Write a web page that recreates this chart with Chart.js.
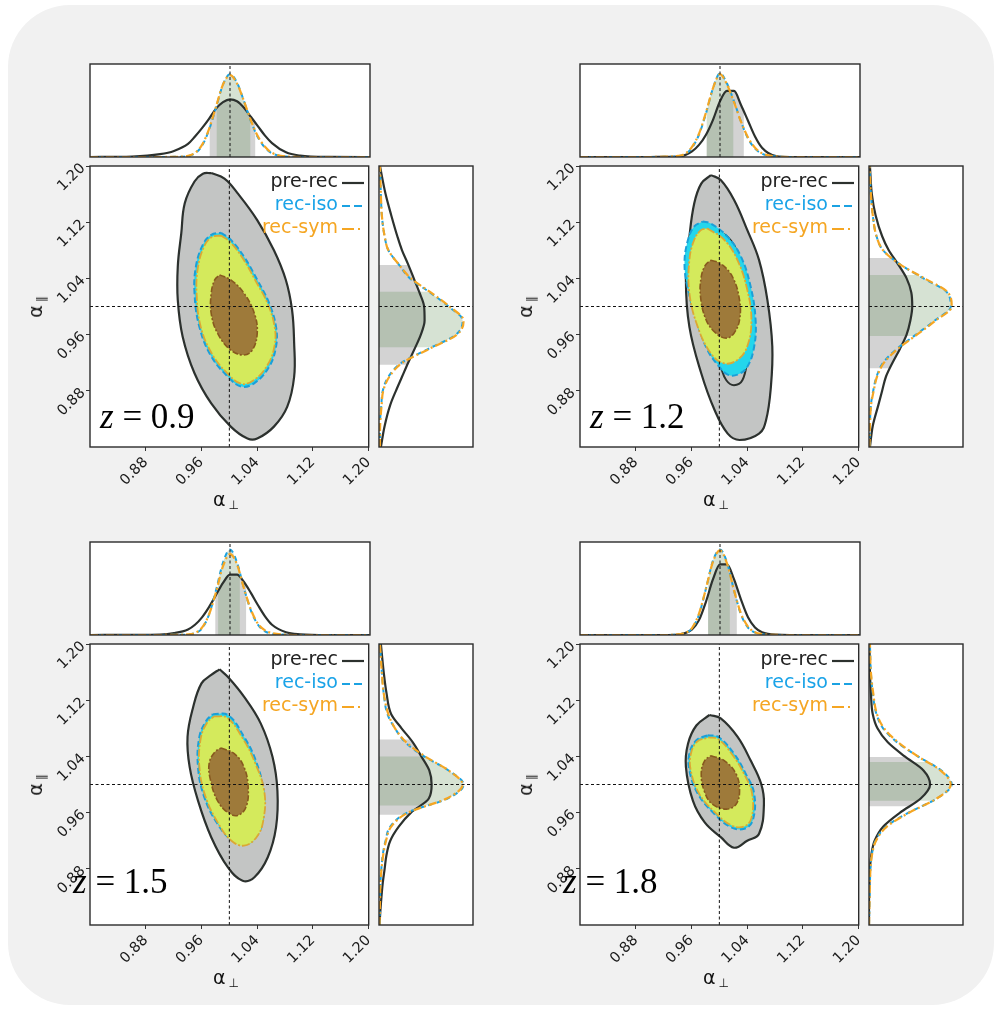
<!DOCTYPE html>
<html>
<head>
<meta charset="utf-8">
<script src="https://cdn.jsdelivr.net/npm/chart.js@4/dist/chart.umd.min.js"></script>
<style>
  body { margin: 0; width: 995px; height: 1009px; position: relative; overflow: hidden; background: #fff; font-family: "DejaVu Sans", sans-serif; }
  #bg { position: absolute; left: 8px; top: 5px; width: 986px; height: 1000px; border-radius: 62px; background: #f1f1f1; }
  canvas { position: absolute; }
  .legrow { position: absolute; width: 120px; text-align: right; font-size: 19px; line-height: 23px; white-space: nowrap; }
  .legline { position: absolute; line-height: 0; }
  .legline svg { display: block; }
  .zlab { position: absolute; font-family: "Liberation Serif", "DejaVu Serif", serif; font-size: 35px; line-height: 34px; white-space: nowrap; color: #000; }
  .atitle { position: absolute; font-size: 19px; white-space: nowrap; color: #111; transform: translate(-50%, -50%); }
  .atitle sub { font-size: 12px; vertical-align: -3px; margin-left: 3px; }
  .ytitle { transform: translate(-50%, -50%) rotate(-90deg); }
</style>
</head>
<body>
<div id="bg"></div>
<script>
// ---------------------------------------------------------------- data
const redshifts = ["0.9", "1.2", "1.5", "1.8"];
const legendLabels = ["pre-rec", "rec-iso", "rec-sym"];
const tickValues = [0.88, 0.96, 1.04, 1.12, 1.20];
const refValue = 1.0;

// marginal grids (alpha values where the 1D curves were read)
const topGrid = [0.80, 0.86, 0.90, 0.92, 0.94, 0.95, 0.96, 0.97, 0.98, 0.99, 1.00, 1.01, 1.02, 1.03, 1.04, 1.05, 1.06, 1.08, 1.10, 1.14, 1.20];
const sideGrid = [0.80, 0.83, 0.86, 0.88, 0.90, 0.92, 0.94, 0.96, 0.98, 1.00, 1.02, 1.04, 1.06, 1.08, 1.10, 1.13, 1.16, 1.20];

// z = 0.9
const z09TopPre = [0, 0.005, 0.03, 0.065, 0.14, 0.22, 0.31, 0.41, 0.52, 0.59, 0.62, 0.60, 0.53, 0.43, 0.33, 0.23, 0.15, 0.05, 0.015, 0.001, 0];
const z09TopIso = [0, 0, 0, 0.002, 0.01, 0.04, 0.12, 0.29, 0.53, 0.78, 0.89, 0.80, 0.60, 0.38, 0.21, 0.10, 0.04, 0.005, 0, 0, 0];
const z09TopSym = [0, 0, 0, 0.002, 0.012, 0.045, 0.13, 0.30, 0.54, 0.78, 0.88, 0.79, 0.60, 0.39, 0.22, 0.11, 0.045, 0.006, 0, 0, 0];
const z09SidePre = [0.02, 0.06, 0.12, 0.18, 0.245, 0.31, 0.38, 0.445, 0.485, 0.48, 0.43, 0.37, 0.31, 0.245, 0.195, 0.13, 0.07, 0.01];
const z09SideIso = [0.01, 0.01, 0.025, 0.04, 0.10, 0.24, 0.53, 0.82, 0.89, 0.74, 0.54, 0.33, 0.21, 0.10, 0.06, 0.03, 0.02, 0.01];
const z09SideSym = [0.01, 0.012, 0.028, 0.045, 0.11, 0.25, 0.54, 0.83, 0.90, 0.75, 0.55, 0.34, 0.21, 0.10, 0.06, 0.03, 0.02, 0.01];
const z09TopBands = { pre: [0.971, 1.036], rec: [0.981, 1.029] };
const z09SideBands = { pre: [0.917, 1.059], rec: [0.942, 1.021] };
const z09Pre2 = [[0.974,1.190],[0.993,1.182],[1.012,1.161],[1.040,1.123],[1.064,1.080],[1.081,1.038],[1.090,0.995],[1.093,0.948],[1.093,0.900],[1.083,0.857],[1.064,0.829],[1.040,0.812],[1.026,0.812],[1.002,0.829],[0.974,0.862],[0.950,0.905],[0.933,0.957],[0.926,1.009],[0.926,1.057],[0.931,1.104],[0.936,1.147],[0.950,1.178],[0.962,1.189]];
const z09Pre1 = null;
const z09Iso2 = [[0.988,1.105],[1.002,1.095],[1.021,1.071],[1.040,1.038],[1.057,1.005],[1.067,0.971],[1.067,0.943],[1.057,0.914],[1.036,0.891],[1.017,0.886],[0.998,0.900],[0.974,0.929],[0.957,0.971],[0.950,1.019],[0.952,1.057],[0.962,1.088],[0.974,1.102]];
const z09Sym2 = [[0.988,1.101],[1.001,1.092],[1.019,1.069],[1.038,1.036],[1.055,1.004],[1.065,0.971],[1.065,0.945],[1.055,0.917],[1.035,0.895],[1.017,0.890],[0.999,0.903],[0.976,0.931],[0.959,0.971],[0.953,1.019],[0.955,1.056],[0.964,1.086],[0.975,1.099]];
const z09Rec1 = [[0.986,1.045],[1.002,1.038],[1.021,1.019],[1.036,0.990],[1.040,0.962],[1.033,0.938],[1.021,0.931],[1.002,0.938],[0.983,0.962],[0.974,0.990],[0.974,1.019],[0.979,1.038]];

// z = 1.2
const z12TopPre = [0, 0, 0, 0.002, 0.005, 0.02, 0.06, 0.13, 0.24, 0.40, 0.60, 0.71, 0.71, 0.56, 0.39, 0.22, 0.10, 0.01, 0, 0, 0];
const z12TopIso = [0, 0, 0, 0.002, 0.01, 0.03, 0.10, 0.24, 0.47, 0.74, 0.90, 0.79, 0.60, 0.38, 0.20, 0.09, 0.035, 0.005, 0, 0, 0];
const z12TopSym = [0, 0, 0, 0.003, 0.012, 0.035, 0.11, 0.25, 0.48, 0.74, 0.89, 0.78, 0.59, 0.38, 0.21, 0.10, 0.04, 0.006, 0, 0, 0];
const z12SidePre = [0.01, 0.04, 0.10, 0.14, 0.18, 0.25, 0.33, 0.40, 0.44, 0.46, 0.45, 0.40, 0.31, 0.21, 0.14, 0.07, 0.03, 0.01];
const z12SideIso = [0.005, 0.01, 0.02, 0.045, 0.08, 0.15, 0.30, 0.50, 0.70, 0.87, 0.83, 0.58, 0.33, 0.15, 0.08, 0.04, 0.02, 0.005];
const z12SideSym = [0.005, 0.01, 0.022, 0.05, 0.085, 0.16, 0.31, 0.51, 0.71, 0.88, 0.84, 0.59, 0.33, 0.15, 0.08, 0.04, 0.02, 0.005];
const z12TopBands = { pre: [0.981, 1.034], rec: [0.981, 1.019] };
const z12SideBands = { pre: [0.912, 1.069], rec: [0.958, 1.045] };
const z12Pre2 = [[0.988,1.187],[1.002,1.180],[1.021,1.152],[1.040,1.109],[1.057,1.066],[1.069,1.009],[1.076,0.943],[1.074,0.886],[1.067,0.838],[1.057,0.819],[1.029,0.810],[1.012,0.819],[0.993,0.853],[0.974,0.905],[0.957,0.971],[0.952,1.038],[0.957,1.099],[0.964,1.147],[0.974,1.175]];
const z12Pre1 = [[0.993,1.109],[1.012,1.099],[1.026,1.076],[1.036,1.020],[1.043,0.960],[1.040,0.924],[1.033,0.895],[1.021,0.888],[1.010,0.895],[1.002,0.914],[0.985,0.960],[0.972,1.020],[0.972,1.060],[0.979,1.095]];
const z12Iso2 = [[0.976,1.121],[0.988,1.118],[1.012,1.099],[1.031,1.071],[1.045,1.028],[1.052,0.981],[1.050,0.943],[1.040,0.914],[1.026,0.903],[1.012,0.903],[1.000,0.914],[0.983,0.938],[0.967,0.981],[0.955,1.024],[0.950,1.061],[0.955,1.095],[0.964,1.114]];
const z12Sym2 = [[0.983,1.111],[1.007,1.095],[1.026,1.066],[1.040,1.024],[1.046,0.981],[1.040,0.943],[1.026,0.924],[1.007,0.919],[0.988,0.933],[0.969,0.971],[0.957,1.019],[0.957,1.066],[0.964,1.095],[0.974,1.109]];
const z12Rec1 = [[0.988,1.066],[1.002,1.061],[1.019,1.042],[1.029,1.009],[1.029,0.981],[1.021,0.962],[1.010,0.955],[0.995,0.962],[0.981,0.981],[0.973,1.014],[0.974,1.042],[0.980,1.059]];

// z = 1.5
const z15TopPre = [0, 0.002, 0.005, 0.02, 0.06, 0.11, 0.19, 0.30, 0.43, 0.56, 0.65, 0.65, 0.57, 0.45, 0.32, 0.20, 0.11, 0.03, 0.008, 0, 0];
const z15TopIso = [0, 0, 0, 0.002, 0.005, 0.02, 0.07, 0.22, 0.48, 0.78, 0.92, 0.78, 0.50, 0.26, 0.11, 0.04, 0.015, 0.003, 0, 0, 0];
const z15TopSym = [0, 0, 0, 0.002, 0.006, 0.022, 0.08, 0.22, 0.46, 0.74, 0.87, 0.76, 0.50, 0.27, 0.12, 0.05, 0.02, 0.004, 0, 0, 0];
const z15SidePre = [0.005, 0.02, 0.04, 0.06, 0.08, 0.12, 0.21, 0.34, 0.53, 0.56, 0.535, 0.45, 0.36, 0.24, 0.13, 0.08, 0.05, 0.02];
const z15SideIso = [0.005, 0.01, 0.015, 0.025, 0.04, 0.07, 0.12, 0.30, 0.73, 0.90, 0.74, 0.48, 0.28, 0.17, 0.09, 0.05, 0.03, 0.01];
const z15SideSym = [0.005, 0.01, 0.016, 0.027, 0.045, 0.075, 0.13, 0.31, 0.72, 0.89, 0.74, 0.49, 0.29, 0.17, 0.10, 0.05, 0.03, 0.01];
const z15TopBands = { pre: [0.979, 1.023], rec: [0.983, 1.014] };
const z15SideBands = { pre: [0.957, 1.064], rec: [0.970, 1.040] };
const z15Pre2 = [[0.986,1.164],[0.998,1.153],[1.021,1.125],[1.045,1.087],[1.062,1.039],[1.069,0.991],[1.067,0.939],[1.055,0.896],[1.036,0.868],[1.019,0.863],[0.998,0.882],[0.974,0.925],[0.955,0.977],[0.943,1.025],[0.940,1.068],[0.948,1.110],[0.960,1.144],[0.974,1.156]];
const z15Pre1 = null;
const z15Iso2 = [[0.976,1.100],[0.998,1.099],[1.021,1.068],[1.038,1.034],[1.049,0.991],[1.048,0.949],[1.038,0.925],[1.021,0.915],[1.002,0.922],[0.983,0.944],[0.964,0.982],[0.955,1.025],[0.957,1.068],[0.967,1.091]];
const z15Sym2 = [[0.978,1.097],[0.997,1.095],[1.019,1.066],[1.036,1.033],[1.050,0.991],[1.049,0.950],[1.039,0.925],[1.021,0.913],[1.003,0.920],[0.985,0.943],[0.966,0.982],[0.957,1.025],[0.959,1.066],[0.968,1.088]];
const z15Rec1 = [[0.988,1.052],[1.007,1.044],[1.021,1.025],[1.027,0.996],[1.024,0.968],[1.012,0.956],[0.998,0.960],[0.983,0.977],[0.973,1.006],[0.971,1.030],[0.979,1.046]];

// z = 1.8
const z18TopPre = [0, 0, 0, 0, 0.005, 0.02, 0.06, 0.16, 0.36, 0.60, 0.76, 0.76, 0.60, 0.38, 0.19, 0.08, 0.03, 0.003, 0, 0, 0];
const z18TopIso = [0, 0, 0, 0, 0.005, 0.02, 0.07, 0.22, 0.50, 0.80, 0.92, 0.78, 0.48, 0.22, 0.08, 0.025, 0.008, 0, 0, 0, 0];
const z18TopSym = [0, 0, 0, 0, 0.006, 0.022, 0.075, 0.23, 0.50, 0.79, 0.91, 0.77, 0.48, 0.23, 0.09, 0.03, 0.01, 0.001, 0, 0, 0];
const z18SidePre = [0, 0, 0.005, 0.01, 0.025, 0.06, 0.15, 0.33, 0.55, 0.65, 0.58, 0.38, 0.20, 0.09, 0.04, 0.02, 0.01, 0.005];
const z18SideIso = [0, 0.005, 0.01, 0.015, 0.03, 0.07, 0.18, 0.42, 0.72, 0.88, 0.77, 0.52, 0.30, 0.15, 0.08, 0.04, 0.02, 0.01];
const z18SideSym = [0, 0.005, 0.01, 0.016, 0.032, 0.075, 0.19, 0.43, 0.72, 0.87, 0.76, 0.52, 0.31, 0.16, 0.085, 0.045, 0.02, 0.01];
const z18TopBands = { pre: [0.983, 1.024], rec: [0.983, 1.014] };
const z18SideBands = { pre: [0.969, 1.039], rec: [0.977, 1.032] };
const z18Pre2 = [[0.986,1.099],[1.002,1.094],[1.026,1.068],[1.045,1.034],[1.060,1.001],[1.064,0.972],[1.057,0.930],[1.040,0.920],[1.021,0.910],[1.002,0.925],[0.979,0.946],[0.962,0.977],[0.952,1.025],[0.955,1.058],[0.967,1.084]];
const z18Pre1 = null;
const z18Iso2 = [[0.983,1.070],[0.998,1.068],[1.021,1.044],[1.038,1.015],[1.050,0.987],[1.048,0.949],[1.036,0.937],[1.017,0.939],[0.993,0.958],[0.969,0.987],[0.957,1.020],[0.957,1.044],[0.967,1.063]];
const z18Sym2 = [[0.984,1.067],[0.998,1.065],[1.019,1.042],[1.036,1.014],[1.047,0.987],[1.046,0.952],[1.035,0.940],[1.017,0.942],[0.994,0.960],[0.971,0.987],[0.959,1.020],[0.959,1.043],[0.968,1.061]];
const z18Rec1 = [[0.988,1.041],[1.007,1.034],[1.024,1.015],[1.029,0.991],[1.024,0.972],[1.010,0.965],[0.990,0.972],[0.979,0.989],[0.974,1.015],[0.979,1.034]];

// ---------------------------------------------------------------- style / layout
const COL_PRE = "#2c312e";
const COL_ISO = "#1ba2e2";
const COL_SYM = "#f5a623";
const legendColors = ["#222222", "#1aa3e8", "#f5a623"];
const groupOffsets = [[0, 0], [490, 0], [0, 478], [490, 478]];
const zLabelPos = [[100, 428], [590, 428], [73, 893], [563, 893]];

const panels = [
  { top: [z09TopPre, z09TopIso, z09TopSym], side: [z09SidePre, z09SideIso, z09SideSym], topBands: z09TopBands, sideBands: z09SideBands, pre2: z09Pre2, pre1: z09Pre1, iso2: z09Iso2, sym2: z09Sym2, rec1: z09Rec1 },
  { top: [z12TopPre, z12TopIso, z12TopSym], side: [z12SidePre, z12SideIso, z12SideSym], topBands: z12TopBands, sideBands: z12SideBands, pre2: z12Pre2, pre1: z12Pre1, iso2: z12Iso2, sym2: z12Sym2, rec1: z12Rec1 },
  { top: [z15TopPre, z15TopIso, z15TopSym], side: [z15SidePre, z15SideIso, z15SideSym], topBands: z15TopBands, sideBands: z15SideBands, pre2: z15Pre2, pre1: z15Pre1, iso2: z15Iso2, sym2: z15Sym2, rec1: z15Rec1 },
  { top: [z18TopPre, z18TopIso, z18TopSym], side: [z18SidePre, z18SideIso, z18SideSym], topBands: z18TopBands, sideBands: z18SideBands, pre2: z18Pre2, pre1: z18Pre1, iso2: z18Iso2, sym2: z18Sym2, rec1: z18Rec1 },
];

// ---------------------------------------------------------------- helpers
// white plot area + dark frame round it
const framePlugin = {
  id: "frame",
  beforeDraw(chart) {
    const { ctx, chartArea: a } = chart;
    ctx.save();
    ctx.fillStyle = "#fff";
    ctx.fillRect(a.left, a.top, a.right - a.left, a.bottom - a.top);
    ctx.restore();
  },
  afterDraw(chart) {
    const { ctx, chartArea: a } = chart;
    ctx.save();
    ctx.strokeStyle = "#2b2b2b";
    ctx.lineWidth = 1.4;
    ctx.strokeRect(a.left, a.top, a.right - a.left, a.bottom - a.top);
    ctx.restore();
  },
};

// shades the area under a curve only inside its 1-sigma interval
function bandPlugin(bands, horizontal) {
  return {
    id: "bands",
    beforeDatasetsDraw(chart) {
      const ctx = chart.ctx, a = chart.chartArea;
      const xs = chart.scales.x, ys = chart.scales.y;
      chart.data.datasets.forEach((d, i) => {
        const m = chart.getDatasetMeta(i);
        if (m.dataset) m.dataset.updateControlPoints(a, horizontal ? "x" : "y");
      });
      bands.forEach((b) => {
        const line = chart.getDatasetMeta(b.index).dataset;
        const pts = line.points;
        ctx.save();
        ctx.beginPath();
        if (horizontal) {
          const l = xs.getPixelForValue(b.range[0]), r = xs.getPixelForValue(b.range[1]);
          ctx.rect(l, a.top, r - l, a.bottom - a.top);
        } else {
          const t = ys.getPixelForValue(b.range[1]), bt = ys.getPixelForValue(b.range[0]);
          ctx.rect(a.left, t, a.right - a.left, bt - t);
        }
        ctx.clip();
        ctx.beginPath();
        line.path(ctx);
        if (horizontal) {
          const y0 = ys.getPixelForValue(0);
          ctx.lineTo(pts[pts.length - 1].x, y0);
          ctx.lineTo(pts[0].x, y0);
        } else {
          const x0 = xs.getPixelForValue(0);
          ctx.lineTo(x0, pts[pts.length - 1].y);
          ctx.lineTo(x0, pts[0].y);
        }
        ctx.closePath();
        ctx.fillStyle = b.color;
        ctx.fill();
        ctx.restore();
      });
    },
  };
}

function makeCanvas(left, top, w, h) {
  const c = document.createElement("canvas");
  c.width = w;
  c.height = h;
  c.style.left = left + "px";
  c.style.top = top + "px";
  c.style.width = w + "px";
  c.style.height = h + "px";
  document.body.appendChild(c);
  return c;
}

function withOrder(list) {
  return list.map((d, i) => Object.assign(d, { order: list.length - i }));
}

function curveSet(values, grid, horizontal, color, dash, width) {
  return {
    data: values.map((v, i) => (horizontal ? { x: grid[i], y: v } : { x: v, y: grid[i] })),
    borderColor: color,
    borderDash: dash,
    borderWidth: width,
    pointRadius: 0,
    fill: false,
    cubicInterpolationMode: "monotone",
  };
}

function loopSet(pts, fillColor, lineColor, dash, width) {
  return {
    data: pts.concat([pts[0]]).map(([x, y]) => ({ x, y })),
    backgroundColor: fillColor || "rgba(0,0,0,0)",
    borderColor: lineColor,
    borderDash: dash,
    borderWidth: width,
    pointRadius: 0,
    tension: 0.4,
    fill: fillColor ? "shape" : false,
  };
}

function refLine(x0, y0, x1, y1) {
  return {
    data: [{ x: x0, y: y0 }, { x: x1, y: y1 }],
    borderColor: "#111",
    borderWidth: 1,
    borderDash: [3, 2.5],
    pointRadius: 0,
    tension: 0,
    fill: false,
  };
}

const baseOptions = {
  responsive: false,
  animation: false,
  devicePixelRatio: 1,
  events: [],
  plugins: { legend: { display: false }, tooltip: { enabled: false } },
};

function marginal(canvas, p, horizontal, areaPad) {
  const grid = horizontal ? topGrid : sideGrid;
  const vals = horizontal ? p.top : p.side;
  const bands = horizontal ? p.topBands : p.sideBands;
  const datasets = withOrder([
    curveSet(vals[0], grid, horizontal, COL_PRE, [], 2.2),
    curveSet(vals[1], grid, horizontal, COL_ISO, [5, 4], 2),
    curveSet(vals[2], grid, horizontal, COL_SYM, [8, 3, 2, 3], 2.2),
    horizontal ? refLine(refValue, 0, refValue, 1) : refLine(0, refValue, 1, refValue),
  ]);
  const alphaScale = { type: "linear", min: 0.8, max: 1.2, display: false };
  const densScale = { type: "linear", min: 0, max: 1, display: false };
  return new Chart(canvas, {
    type: "line",
    data: { datasets },
    options: Object.assign({}, baseOptions, {
      indexAxis: horizontal ? "x" : "y",
      layout: { autoPadding: false, padding: areaPad },
      scales: horizontal ? { x: alphaScale, y: densScale } : { x: densScale, y: alphaScale },
    }),
    plugins: [
      framePlugin,
      bandPlugin([
        { index: 0, range: bands.pre, color: "rgba(108,108,108,0.30)" },
        { index: 1, range: bands.rec, color: "rgba(91,139,79,0.25)" },
      ], horizontal),
    ],
  });
}

function axisScale(width, height) {
  return {
    type: "linear",
    min: 0.8,
    max: 1.2,
    afterBuildTicks: (s) => { s.ticks = tickValues.map((v) => ({ value: v })); },
    afterFit: (s) => { if (width) s.width = width; if (height) s.height = height; },
    ticks: {
      autoSkip: false,
      minRotation: 45,
      maxRotation: 45,
      padding: 3,
      color: "#1a1a1a",
      font: { family: "DejaVu Sans", size: 14.5 },
      callback: (v) => Number(v).toFixed(2),
    },
    grid: { display: true, drawOnChartArea: false, drawTicks: true, tickLength: 4, color: "#333", lineWidth: 1 },
    border: { display: false },
  };
}

function mainPanel(canvas, p) {
  const list = [loopSet(p.pre2, "#c3c5c4", COL_PRE, [], 2.2)];
  if (p.pre1) list.push(loopSet(p.pre1, null, COL_PRE, [], 2));
  list.push(loopSet(p.iso2, "#24d6ec", "#1b9fd8", [6, 3], 2));
  list.push(loopSet(p.sym2, "#d4ea5c", "#dca834", [8, 2, 2, 2], 1.8));
  list.push(loopSet(p.rec1, "#9e7a3a", "#87591f", [6, 2, 2, 2], 1.6));
  list.push(refLine(refValue, 0.8, refValue, 1.2));
  list.push(refLine(0.8, refValue, 1.2, refValue));
  return new Chart(canvas, {
    type: "line",
    data: { datasets: withOrder(list) },
    options: Object.assign({}, baseOptions, {
      layout: { autoPadding: false, padding: { top: 12, right: 14, bottom: 0, left: 0 } },
      scales: { x: axisScale(0, 72), y: axisScale(80, 0) },
    }),
    plugins: [framePlugin],
  });
}

function addDiv(cls, html, left, top, color) {
  const d = document.createElement("div");
  d.className = cls;
  d.innerHTML = html;
  d.style.left = left + "px";
  d.style.top = top + "px";
  if (color) d.style.color = color;
  document.body.appendChild(d);
  return d;
}

const legendDash = ["", "8,4", "12,4,2,4"];
const legendStroke = [COL_PRE, COL_ISO, COL_SYM];

// ---------------------------------------------------------------- build
panels.forEach((p, g) => {
  const [dx, dy] = groupOffsets[g];
  const mainL = 90 + dx, mainT = 166 + dy;

  marginal(makeCanvas(mainL - 3, 64 + dy - 3, 286, 99), p, true, 3);
  marginal(makeCanvas(379 + dx - 3, mainT - 3, 100, 287), p, false, 3);
  mainPanel(makeCanvas(mainL - 80, mainT - 12, 374, 365), p);

  // legend (inside the main panel, top right)
  legendLabels.forEach((lab, i) => {
    const cy = mainT + 17 + 23 * i;
    addDiv("legrow", lab, mainL + 128, cy - 14, legendColors[i]);
    const svg = '<svg width="24" height="10"><line x1="1" y1="5" x2="23" y2="5" stroke="' + legendStroke[i] +
      '" stroke-width="2.2"' + (legendDash[i] ? ' stroke-dasharray="' + legendDash[i] + '"' : "") + "/></svg>";
    addDiv("legline", svg, mainL + 251, cy - 5);
  });

  // redshift label
  const [zx, zy] = zLabelPos[g];
  addDiv("zlab", "<i>z</i> = " + redshifts[g], zx, zy - 28.5);

  // axis titles
  addDiv("atitle", "α<sub>⊥</sub>", 226 + dx, 500 + dy);
  addDiv("atitle ytitle", "α<sub>∥</sub>", 36 + dx, 307 + dy);
});
</script>
</body>
</html>
